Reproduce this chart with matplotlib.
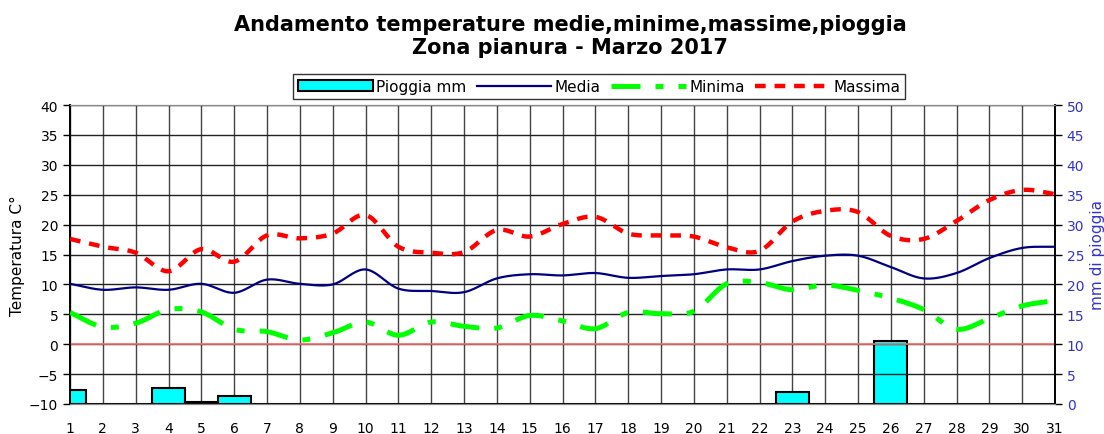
import matplotlib
matplotlib.use("Agg")
import matplotlib.pyplot as plt
from matplotlib.lines import Line2D
from matplotlib.patches import Patch
import numpy as np

plt.rcParams["font.family"] = ["DejaVu Sans"]

days = list(range(1, 32))
media = [10.1, 9.1, 9.5, 9.1, 10.1, 8.6, 10.8, 10.1, 10.0, 12.5, 9.3, 8.9, 8.7, 11.0, 11.7, 11.5,
         11.9, 11.1, 11.4, 11.7, 12.5, 12.5, 13.9, 14.8, 14.8, 12.9, 11.0, 11.9, 14.4, 16.1, 16.3]
minima = [5.3, 2.9, 3.5, 5.8, 5.4, 2.5, 2.1, 0.7, 1.9, 3.7, 1.5, 3.7, 3.0, 2.7, 4.8, 3.9,
          2.6, 5.3, 5.1, 5.5, 10.1, 10.3, 9.1, 9.9, 9.0, 7.7, 5.8, 2.5, 4.3, 6.4, 7.3]
massima = [17.6, 16.3, 15.3, 12.2, 15.9, 13.8, 18.2, 17.7, 18.5, 21.6, 16.3, 15.3, 15.4, 19.1, 18.0, 20.1,
           21.3, 18.5, 18.2, 18.0, 16.2, 15.6, 20.5, 22.3, 22.1, 18.1, 17.6, 20.6, 24.1, 25.8, 25.1]
pioggia = [2.4, 0, 0, 2.7, 0.3, 1.3, 0, 0, 0, 0, 0, 0, 0, 0, 0, 0,
           0, 0, 0, 0, 0, 0, 2.0, 0, 0, 10.5, 0, 0, 0, 0, 0]


def smooth(x, y, n=20):
    # Catmull-Rom curve through the points, like Excel's smoothed line
    x = np.asarray(x, float)
    y = np.asarray(y, float)
    px = np.concatenate([[2 * x[0] - x[1]], x, [2 * x[-1] - x[-2]]])
    py = np.concatenate([[2 * y[0] - y[1]], y, [2 * y[-1] - y[-2]]])
    t = np.linspace(0, 1, n, endpoint=False)
    xs, ys = [], []
    for i in range(1, len(px) - 2):
        for p, out in ((px, xs), (py, ys)):
            p0, p1, p2, p3 = p[i - 1], p[i], p[i + 1], p[i + 2]
            out.extend(0.5 * (2 * p1 + (-p0 + p2) * t + (2 * p0 - 5 * p1 + 4 * p2 - p3) * t ** 2
                              + (-p0 + 3 * p1 - 3 * p2 + p3) * t ** 3))
    xs.append(x[-1])
    ys.append(y[-1])
    return np.array(xs), np.array(ys)


BLUE_TXT = "#3333cc"
RED_DASH = (2.4, 2.0)
GREEN_DASH = (5.8, 3.0, 1.6, 3.0)

fig = plt.figure(figsize=(11.04, 4.35), dpi=100)
ax = fig.add_axes([70 / 1104, 1 - 405 / 435, 985 / 1104, 299 / 435])
ax2 = ax.twinx()

# rain bars on the secondary axis, drawn below the temperature lines
ax2.bar(days, pioggia, width=1.0, color="#00ffff", edgecolor="black", linewidth=1.5, zorder=2)
ax2.set_ylim(0, 50)
ax2.set_yticks(range(0, 51, 5))
ax2.tick_params(axis="y", colors=BLUE_TXT, labelsize=10, length=5, width=1)
ax2.tick_params(axis="y", color="black")
ax2.set_ylabel("mm di pioggia", color=BLUE_TXT, fontsize=11, labelpad=4)

ax.set_zorder(ax2.get_zorder() + 1)
ax.patch.set_visible(False)

for d in days:
    ax2.axvline(d, color="#444444", lw=1.0, zorder=0)
for v in range(-10, 41, 5):
    ax.axhline(v, color="#222222", lw=1.0, zorder=0)
ax.axhline(0, color="#ff6b6b", lw=1.2, zorder=1)

xs, ys = smooth(days, massima)
ax.plot(xs, ys, color="#ff0000", lw=3.2, dashes=RED_DASH, zorder=3)
xs, ys = smooth(days, media)
ax.plot(xs, ys, color="#000080", lw=1.6, zorder=4)
xs, ys = smooth(days, minima)
ax.plot(xs, ys, color="#00ff00", lw=3.6, dashes=GREEN_DASH, zorder=3)

ax.set_xlim(1, 31)
ax.set_ylim(-10, 40)
ax.set_yticks(range(-10, 41, 5))
ax.set_xticks(days)
ax.tick_params(axis="y", labelsize=10, length=5, width=1)
ax.tick_params(axis="x", labelsize=10, length=0, pad=12)
ax.set_ylabel("Temperatura C°", fontsize=11, labelpad=3)

for a in (ax, ax2):
    a.spines["top"].set_color("#888888")
    a.spines["bottom"].set_color("#888888")
    a.spines["left"].set_color("black")
    a.spines["right"].set_color("black")
    a.spines["left"].set_linewidth(1.2)
    a.spines["right"].set_linewidth(1.2)

fig.text(570 / 1104, 1 - 31 / 435, "Andamento temperature medie,minime,massime,pioggia",
         ha="center", va="baseline", fontsize=15, fontweight="bold")
fig.text(570 / 1104, 1 - 54 / 435, "Zona pianura - Marzo 2017",
         ha="center", va="baseline", fontsize=15, fontweight="bold")

handles = [
    Patch(facecolor="#00ffff", edgecolor="black", linewidth=1.5),
    Line2D([], [], color="#000080", lw=1.6),
    Line2D([], [], color="#00ff00", lw=3.6, dashes=GREEN_DASH),
    Line2D([], [], color="#ff0000", lw=3.2, dashes=RED_DASH),
]
labels = ["Pioggia mm", "Media", "Minima", "Massima"]
leg = fig.legend(handles, labels, ncol=4, loc="center", bbox_to_anchor=(599 / 1104, 1 - 87.5 / 435),
                 fontsize=11, frameon=True, fancybox=False, edgecolor="black",
                 handlelength=4.9, handleheight=0.7, handletextpad=0.2, columnspacing=0.7,
                 borderpad=0.3, borderaxespad=0)
leg.get_frame().set_linewidth(1.0)

fig.savefig("out.png", dpi=100)
